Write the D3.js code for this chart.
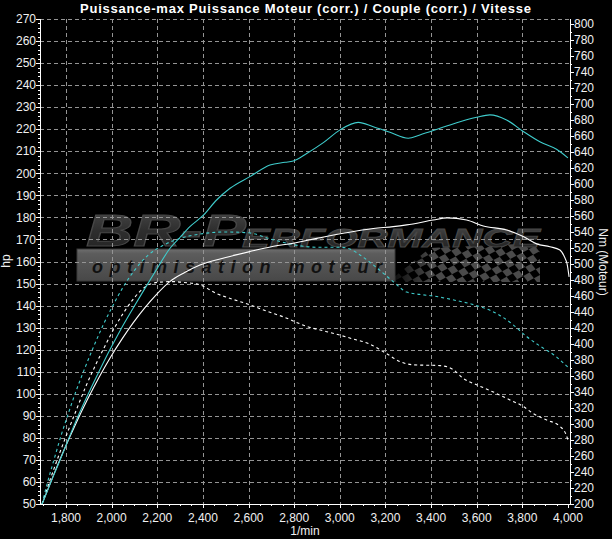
<!DOCTYPE html>
<html><head><meta charset="utf-8">
<script src="https://cdn.jsdelivr.net/npm/d3@7"></script>
<style>
html,body{margin:0;padding:0;background:#000;}
svg{display:block;}
text{font-family:"Liberation Sans",Arial,sans-serif;}
</style></head><body>
<svg id="c" width="612" height="539"></svg>
<script>
// ---- data ----
const titleText = "Puissance-max Puissance Moteur (corr.) / Couple (corr.) / Vitesse";
const xTicks = [1800,2000,2200,2400,2600,2800,3000,3200,3400,3600,3800,4000];
const hpTicks = [50,60,70,80,90,100,110,120,130,140,150,160,170,180,190,200,210,220,230,240,250,260,270];
const nmTicks = [200,220,240,260,280,300,320,340,360,380,400,420,440,460,480,500,520,540,560,580,600,620,640,660,680,700,720,740,760,780,800];

// run 1 (cyan) power, hp
const powerRun1 = [[1695,50],[1740,61.5],[1790,74],[1840,86.8],[1890,98.3],[1940,109.1],[1990,119.5],[2040,129.2],[2090,138.1],[2140,146.8],[2190,155.2],[2256,166],[2300,171],[2343,175.8],[2402,181],[2460,187.9],[2519,193.2],[2606,198.5],[2694,203.8],[2760,205],[2796,205.6],[2855,209],[2928,213.9],[3001,219.7],[3081,223.1],[3147,221.1],[3220,218.6],[3300,215.9],[3351,217.4],[3439,220.4],[3527,223.4],[3600,225.4],[3658,226.5],[3731,224.2],[3804,219],[3877,214.3],[3950,210.9],[4000,207]];
// run 2 (white) power, hp
const powerRun2 = [[1695,50],[1745,63],[1795,75.4],[1845,86.9],[1895,97.6],[1945,107.5],[1995,116.6],[2045,124.8],[2095,132.3],[2145,139],[2195,144.9],[2256,151],[2320,155],[2387,158.4],[2500,161.8],[2606,164.5],[2700,166.7],[2796,168.3],[2900,170.5],[3015,172.8],[3147,175],[3234,175.8],[3293,176.6],[3410,178.8],[3470,179.8],[3556,178.8],[3629,176.1],[3731,174.3],[3804,171.3],[3863,168],[3921,166.7],[3965,165.2],[3985,162],[3996,159],[4005,153]];
// run 1 (cyan) torque, Nm
const torqueRun1 = [[1695,200],[1720,228],[1750,258],[1780,287],[1810,313],[1840,338],[1880,368],[1920,396],[1960,422],[2000,445],[2050,471],[2100,492],[2160,511],[2230,524],[2300,532],[2400,538],[2500,540],[2600,539],[2700,531],[2800,524],[2900,521],[3000,521],[3050,518],[3100,509],[3176,492],[3234,478],[3293,465],[3350,462],[3410,460],[3500,455],[3600,448],[3660,442],[3700,436],[3760,424],[3820,409],[3880,397],[3940,386],[4000,371]];
// run 2 (white) torque, Nm
const torqueRun2 = [[1695,200],[1730,230],[1770,262],[1810,292],[1850,321],[1890,349],[1930,374],[1970,397],[2010,419],[2050,438],[2100,458],[2145,471],[2200,477],[2270,478],[2314,477],[2387,474],[2460,463],[2530,456],[2606,449],[2680,441],[2752,434],[2855,422],[2950,415],[3050,407],[3130,400],[3205,388],[3264,378],[3323,374],[3439,373],[3497,368],[3541,357],[3600,349],[3673,340],[3746,330],[3804,322],[3848,313],[3907,305],[3965,297],[3990,288],[4000,280]];

// ---- layout ----
const L = 40, R = 570, T = 19, B = 504;
const svg = d3.select("#c");
svg.append("rect").attr("width",612).attr("height",539).attr("fill","#000");

const x = d3.scaleLinear().domain([1686, 4009]).range([L, R]);
const yL = d3.scaleLinear().domain([50, 270]).range([B, T]);
const yR = d3.scaleLinear().domain([200, 800]).range([B, 24]);

const defs = svg.append("defs");
defs.append("clipPath").attr("id","plot").append("rect")
  .attr("x",L).attr("y",T).attr("width",R-L).attr("height",B-T);

// ---- watermark logo ----
const g1 = defs.append("linearGradient").attr("id","bannerG").attr("x1",0).attr("y1",0).attr("x2",0).attr("y2",1);
g1.append("stop").attr("offset","0%").attr("stop-color","#6e6e6e");
g1.append("stop").attr("offset","15%").attr("stop-color","#5c5c5c");
g1.append("stop").attr("offset","100%").attr("stop-color","#484848");
const g2 = defs.append("linearGradient").attr("id","brG").attr("x1",0).attr("y1",0).attr("x2",0).attr("y2",1);
g2.append("stop").attr("offset","0%").attr("stop-color","#4a4a4a");
g2.append("stop").attr("offset","50%").attr("stop-color","#2e2e2e");
g2.append("stop").attr("offset","100%").attr("stop-color","#222");
const g3 = defs.append("linearGradient").attr("id","fadeG").attr("x1",0).attr("y1",0).attr("x2",1).attr("y2",0);
g3.append("stop").attr("offset","0%").attr("stop-color","#000");
g3.append("stop").attr("offset","30%").attr("stop-color","#fff");
g3.append("stop").attr("offset","100%").attr("stop-color","#fff");
const mask = defs.append("mask").attr("id","fadeM");
mask.append("rect").attr("x",385).attr("y",235).attr("width",160).attr("height",50).attr("fill","url(#fadeG)");
defs.append("clipPath").attr("id","flagClip").append("polygon")
  .attr("points","388,282 430,248 540,243 540,282");

const logo = svg.append("g").attr("clip-path","url(#plot)");
logo.append("rect").attr("x",77).attr("y",249).attr("width",318).attr("height",32)
  .attr("fill","url(#bannerG)").attr("stroke","#3a3a3a").attr("stroke-width",1);
// checkered flag
const flag = logo.append("g").attr("clip-path","url(#flagClip)").append("g").attr("mask","url(#fadeM)");
const cells = flag.append("g").attr("transform","translate(460,262) rotate(-28) skewX(10)");
for (let i=-14;i<14;i++) for (let j=-8;j<8;j++) if ((i+j)%2===0)
  cells.append("rect").attr("x",i*7).attr("y",j*7).attr("width",7).attr("height",7).attr("fill","#4a4a4a");
logo.append("text").attr("x",86).attr("y",246).attr("font-size",44).attr("font-weight","bold")
  .attr("font-style","italic").attr("font-family","DejaVu Sans")
  .attr("textLength",160).attr("lengthAdjust","spacingAndGlyphs")
  .attr("fill","url(#brG)").attr("stroke","#474747").attr("stroke-width",1).text("BR-P");
logo.append("text").attr("x",242).attr("y",247).attr("font-size",25).attr("font-weight","bold")
  .attr("font-style","italic").attr("font-family","DejaVu Sans")
  .attr("textLength",298).attr("lengthAdjust","spacingAndGlyphs")
  .attr("fill","url(#brG)").attr("stroke","#474747").attr("stroke-width",0.8).text("ERFORMANCE");
logo.append("text").attr("x",92).attr("y",273).attr("font-size",18).attr("font-weight","bold")
  .attr("font-style","italic").attr("font-family","DejaVu Sans")
  .attr("textLength",290).attr("lengthAdjust","spacing")
  .attr("fill","#111").text("optimisation  moteur");

// ---- grid ----
const grid = svg.append("g").attr("stroke","#949494").attr("stroke-width",1).attr("stroke-dasharray","4,3").attr("fill","none");
grid.selectAll("line.v").data(xTicks.filter(d=>d<4000)).join("line")
  .attr("x1",d=>Math.round(x(d))+0.5).attr("x2",d=>Math.round(x(d))+0.5).attr("y1",T).attr("y2",B);
grid.selectAll("line.h").data(hpTicks.filter(d=>d>50)).join("line")
  .attr("y1",d=>Math.round(yL(d))+0.5).attr("y2",d=>Math.round(yL(d))+0.5).attr("x1",L).attr("x2",R);

// ---- curves ----
const lines = svg.append("g").attr("clip-path","url(#plot)").attr("fill","none").attr("stroke-width",1.1);
const lineHp = d3.line().x(d=>x(d[0])).y(d=>yL(d[1])).curve(d3.curveMonotoneX);
const lineNm = d3.line().x(d=>x(d[0])).y(d=>yR(d[1])).curve(d3.curveMonotoneX);
lines.append("path").attr("d",lineNm(torqueRun2)).attr("stroke","#ffffff").attr("stroke-dasharray","3,3");
lines.append("path").attr("d",lineNm(torqueRun1)).attr("stroke","#3fcccc").attr("stroke-dasharray","3,3");
lines.append("path").attr("d",lineHp(powerRun2)).attr("stroke","#ffffff");
lines.append("path").attr("d",lineHp(powerRun1)).attr("stroke","#3fcccc");

// ---- axes ----
const ax = svg.append("g").attr("stroke","#fff").attr("stroke-width",1);
ax.append("line").attr("x1",L+0.5).attr("x2",L+0.5).attr("y1",T).attr("y2",B+1);
ax.append("line").attr("x1",L).attr("x2",R+1).attr("y1",B+0.5).attr("y2",B+0.5);
ax.append("line").attr("x1",R+0.5).attr("x2",R+0.5).attr("y1",T).attr("y2",B+1);

ax.selectAll("line.lt").data(d3.range(50,271,2)).join("line")
  .attr("x1",d=>d%10===0?L-4:L-2).attr("x2",L).attr("y1",d=>Math.round(yL(d))+0.5).attr("y2",d=>Math.round(yL(d))+0.5);
ax.selectAll("line.bt").data(d3.range(1700,4001,50)).join("line")
  .attr("y1",B).attr("y2",d=>d%200===0?B+4:B+2).attr("x1",d=>Math.round(x(d))+0.5).attr("x2",d=>Math.round(x(d))+0.5);
ax.selectAll("line.rt").data(d3.range(200,801,10)).join("line")
  .attr("x1",R).attr("x2",d=>d%20===0?R+4:R+2).attr("y1",d=>Math.round(yR(d))+0.5).attr("y2",d=>Math.round(yR(d))+0.5);

const txt = svg.append("g").attr("fill","#f0f0f0").attr("font-size",12);
txt.selectAll("text.l").data(hpTicks).join("text")
  .attr("x",36).attr("y",d=>yL(d)).attr("dy","0.35em").attr("text-anchor","end").text(d=>d);
txt.selectAll("text.r").data(nmTicks).join("text")
  .attr("x",574).attr("y",d=>yR(d)).attr("dy","0.35em").attr("text-anchor","start").text(d=>d);
const fmt = d3.format(",");
txt.selectAll("text.b").data(xTicks).join("text")
  .attr("x",d=>x(d)).attr("y",521.5).attr("text-anchor","middle").text(d=>fmt(d));
txt.append("text").attr("x",305).attr("y",535).attr("text-anchor","middle").text("1/min");
txt.append("text").attr("transform","translate(10,261) rotate(-90)").attr("text-anchor","middle").text("hp");
txt.append("text").attr("transform","translate(599,262) rotate(90)").attr("text-anchor","middle").text("Nm (Moteur)");

svg.append("text").attr("x",80).attr("y",12.5).attr("text-anchor","start")
  .attr("textLength",451).attr("lengthAdjust","spacing")
  .attr("fill","#fff").attr("font-size",13).attr("font-weight","bold").text(titleText);
</script>
</body></html>
